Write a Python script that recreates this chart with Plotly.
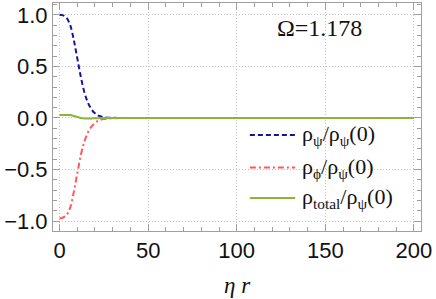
import plotly.graph_objects as go

# data
eta_r = [0, 2, 4, 6, 8, 10, 12, 14, 16, 18, 20, 22, 25, 30, 40, 60, 100, 150, 200]
rho_psi = [1.0, 0.995, 0.97, 0.90, 0.76, 0.58, 0.40, 0.25, 0.15, 0.085, 0.045, 0.022, 0.008, 0.002, 0, 0, 0, 0, 0]
rho_phi = [-0.975, -0.965, -0.94, -0.87, -0.72, -0.54, -0.36, -0.23, -0.14, -0.085, -0.05, -0.025, -0.01, -0.003, 0, 0, 0, 0, 0]
rho_total = [0.03, 0.03, 0.03, 0.028, 0.02, 0.01, 0.0, -0.004, -0.005, -0.004, -0.003, -0.002, -0.001, 0, 0, 0, 0, 0, 0]

x_ticks = [0, 50, 100, 150, 200]
y_ticks = [-1.0, -0.5, 0.0, 0.5, 1.0]
y_tick_text = ["\u22121.0", "\u22120.5", "0.0", "0.5", "1.0"]

series_names = [
    "\u03c1<sub>\u03c8</sub>/\u03c1<sub>\u03c8</sub>(0)",
    "\u03c1<sub>\u03d5</sub>/\u03c1<sub>\u03c8</sub>(0)",
    "\u03c1<sub>total</sub>/\u03c1<sub>\u03c8</sub>(0)",
]
colors = ["#1414a0", "#ff5a5a", "#8db33a"]
dashes = ["5px,3px", "6px,3px,2px,3px", "solid"]

fig = go.Figure()
for yv, nm, c, d in zip([rho_psi, rho_phi, rho_total], series_names, colors, dashes):
    fig.add_trace(go.Scatter(x=eta_r, y=yv, mode="lines", name=nm, showlegend=False,
                             line=dict(color=c, width=2, dash=d, shape="spline")))

serif = "Liberation Serif, Times New Roman, serif"
axis_common = dict(showline=True, linecolor="#a0a0a0", linewidth=1, mirror="allticks",
                   ticks="inside", ticklen=7, tickcolor="#a0a0a0", tickwidth=1,
                   showgrid=True, gridcolor="#c4c4c4", griddash="1px,2px", gridwidth=1,
                   zeroline=False, automargin=False, ticklabeloverflow="allow",
                   tickfont=dict(family="Liberation Sans, Arial", size=22, color="#111"))

fig.update_xaxes(range=[-3.7, 204], tickvals=x_ticks,
                 minor=dict(dtick=10, ticks="inside", ticklen=4, tickcolor="#a0a0a0", showgrid=False),
                 **axis_common)
fig.update_yaxes(range=[-1.096, 1.115], tickvals=y_ticks, ticktext=y_tick_text,
                 minor=dict(dtick=0.1, ticks="inside", ticklen=4, tickcolor="#a0a0a0", showgrid=False),
                 **axis_common)

# axis title
fig.add_annotation(x=0.5, y=-0.238, xref="paper", yref="paper", xanchor="center", yanchor="middle",
                   text="<i>\u03b7 r</i>", showarrow=False,
                   font=dict(family=serif, size=23, color="#111"))

# Omega label
fig.add_annotation(x=0.603, y=0.89, xref="paper", yref="paper", xanchor="left", yanchor="middle",
                   text="\u03a9=1.178", showarrow=False,
                   font=dict(family=serif, size=24, color="#111"))

# custom legend
leg_y = [0.421, 0.2785, 0.145]
for yy, nm, c, d in zip(leg_y, series_names, colors, dashes):
    fig.add_shape(type="line", xref="paper", yref="paper", x0=0.535, x1=0.658, y0=yy, y1=yy,
                  line=dict(color=c, width=2, dash=d))
    fig.add_annotation(x=0.672, y=yy, xref="paper", yref="paper", xanchor="left", yanchor="middle",
                       text=nm, showarrow=False,
                       font=dict(family=serif, size=22, color="#111"))

fig.update_layout(
    width=436, height=299,
    margin=dict(l=53, r=15, t=3, b=68),
    plot_bgcolor="white", paper_bgcolor="white",
    showlegend=False,
)

fig.write_html("out.html", config={"displayModeBar": False},
               post_script="document.body.style.margin='0';document.body.style.overflow='hidden';")
